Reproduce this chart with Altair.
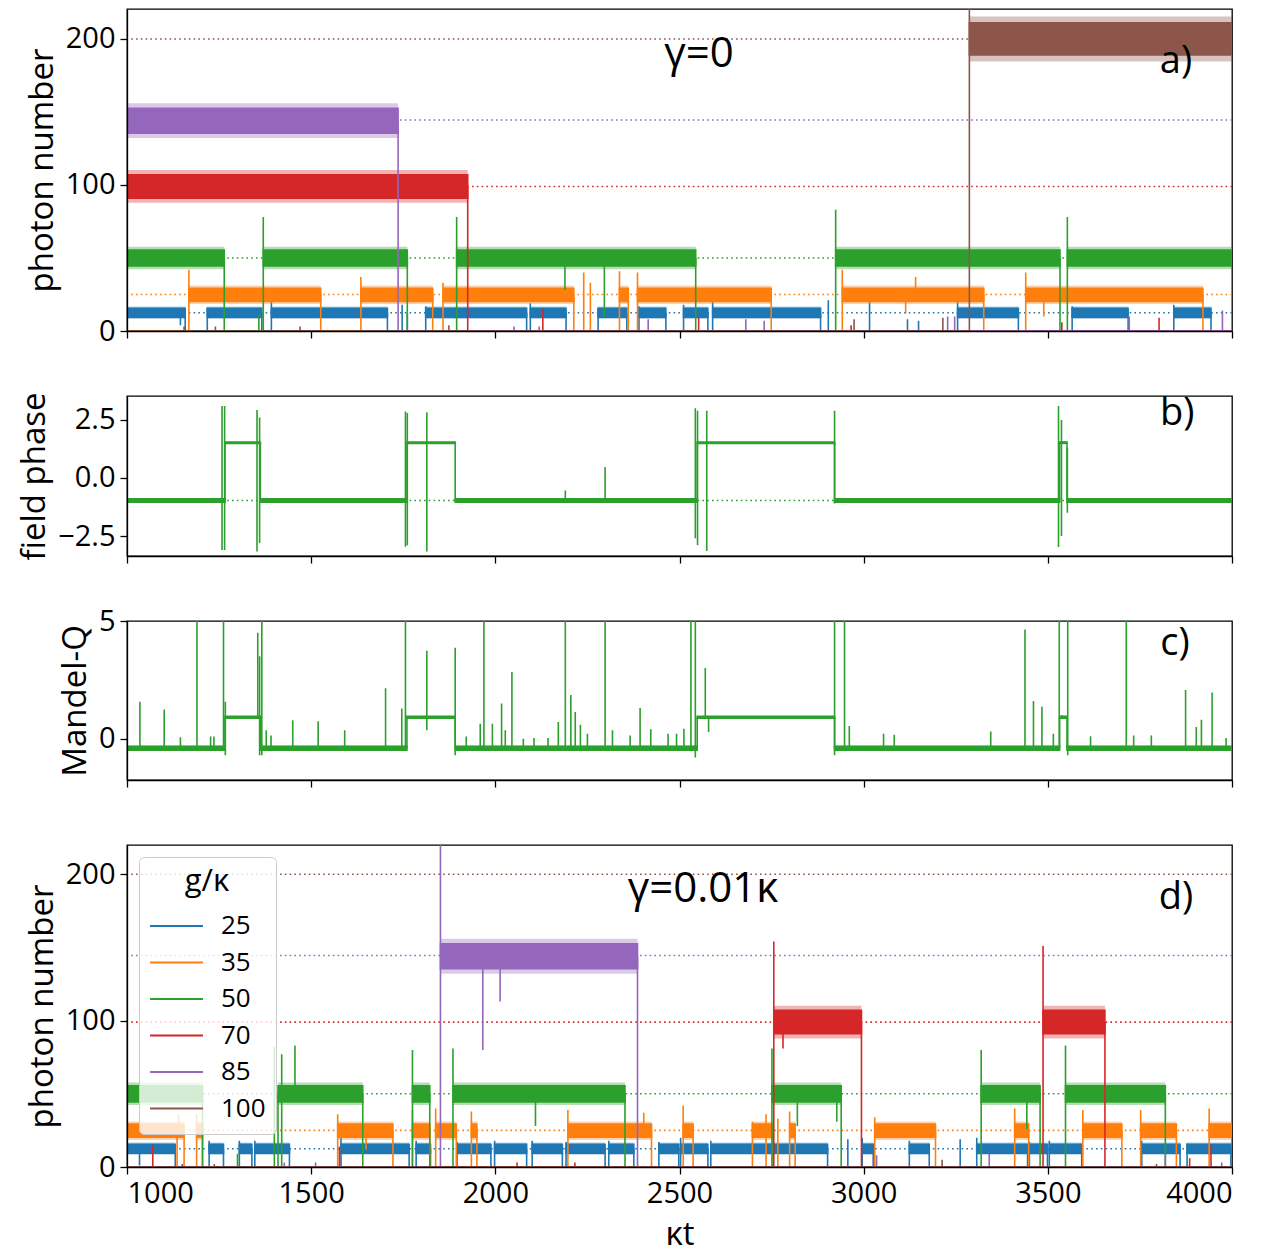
import altair as alt
import pandas as pd

T0, T1 = 1000, 4000
X_TICKS = [1000, 1500, 2000, 2500, 3000, 3500, 4000]
SERIES = ["25", "35", "50", "70", "85", "100"]
COLORS = ["#1f77b4", "#ff7f0e", "#2ca02c", "#d62728", "#9467bd", "#8c564b"]
GUIDES = [12.5, 25, 50, 99, 144.5, 200]   # dotted mean photon numbers
LEVELS = [12.5, 24.8, 50, 99, 144, 200]   # bright-state plateaus
NOISE = [3, 4.5, 5.5, 8, 8.5, 11]         # half width of the noisy band

# panel a) gamma=0 : bright periods (start, end, overshoot) and single strokes (t, from, to)
A_ON_25 = [(1000, 1158, 21), (1218, 1366, 16), (1392, 1707, 20), (1811, 2085, 17), (2095, 2192, 19),
           (2279, 2357, 16), (2390, 2463, 17), (2511, 2577, 18), (2590, 2883, 20), (3255, 3420, 20),
           (3566, 3718, 17), (3842, 3943, 18)]
A_HIT_25 = [(1145, 12.5, 4), (1747, 0, 18), (1761, 0, 12), (2904, 0, 21), (3016, 0, 21), (3119, 0, 8), (3149, 0, 7)]
A_ON_35 = [(1168, 1526, 42), (1635, 1830, 37), (1858, 2213, 33), (2337, 2361, 41), (2386, 2749, 40),
           (2942, 3326, 42), (3440, 3921, 40)]
A_HIT_35 = [(2240, 0, 40), (2258, 0, 33), (3114, 25, 12), (3141, 25, 37), (3489, 25, 10)]
A_ON_50 = [(1000, 1264, 0), (1370, 1761, 78), (1895, 2544, 78), (2924, 3533, 83), (3553, 4000, 78)]
A_HIT_50 = [(1358, 0, 11), (2189, 50, 28), (2296, 50, 10)]
A_ON_70 = [(1000, 1925, 0)]
A_HIT_70 = [(2129, 0, 15), (2552, 0, 9), (2966, 0, 4), (3538, 0, 6), (3802, 0, 9)]
A_ON_85 = [(1000, 1736, 0)]
A_HIT_85 = [(2051, 0, 3), (2119, 0, 3), (2415, 0, 8), (2680, 0, 8), (2730, 0, 7), (3228, 0, 10),
            (3247, 0, 10), (3721, 0, 10), (3974, 0, 14)]
A_ON_100 = [(3287, 4000, 240)]
A_HIT_100 = [(1155, 0, 3), (1240, 0, 3), (1470, 0, 3), (1874, 0, 4), (2974, 0, 8), (3215, 0, 9)]

# panel d) gamma=0.01 kappa
D_ON_25 = [(1000, 1131, 0), (1223, 1262, 18), (1305, 1339, 18), (1347, 1441, 18), (1581, 1766, 20),
           (1785, 1824, 18), (1896, 1988, 17), (1998, 2085, 18), (2100, 2182, 18), (2192, 2298, 17),
           (2308, 2376, 18), (2444, 2498, 17), (2503, 2577, 20), (2585, 2902, 18), (2996, 3026, 20),
           (3124, 3178, 18), (3307, 3445, 20), (3450, 3499, 17), (3504, 3592, 18), (3755, 3859, 18),
           (3878, 3997, 16)]
D_HIT_25 = [(1034, 12.5, 1), (2957, 0, 19), (3262, 0, 19)]
D_ON_35 = [(1000, 1155, 0), (1189, 1205, 36), (1572, 1722, 36), (1775, 1822, 39), (1838, 1894, 40),
           (1935, 1950, 38), (2197, 2424, 39), (2510, 2537, 42), (2698, 2754, 31), (2799, 2814, 38),
           (3030, 3195, 34), (3410, 3448, 40), (3595, 3701, 39), (3752, 3849, 39), (3938, 4000, 40)]
D_HIT_35 = [(1136, 24.8, 0), (1140, 24.8, 36), (1649, 24.8, 12), (2403, 24.8, 37), (2735, 0, 36), (2767, 0, 33)]
D_ON_50 = [(1000, 1205, 0), (1410, 1640, 0), (1775, 1822, 80), (1885, 2352, 81), (2751, 2939, 81),
           (3319, 3479, 80), (3548, 3819, 83)]
D_HIT_50 = [(1300, 0, 9), (1400, 0, 82), (1420, 0, 77), (1456, 50, 83), (2109, 50, 28), (2820, 50, 28),
            (2927, 50, 31), (3443, 50, 26)]
D_ON_70 = [(2756, 2994, 154), (3487, 3655, 151)]
D_HIT_70 = [(1070, 0, 15), (1577, 0, 14), (2059, 0, 3), (2216, 0, 3), (2781, 99, 81), (3885, 0, 6), (3943, 0, 15)]
D_ON_85 = [(1851, 2386, 240)]
D_HIT_85 = [(1427, 0, 3), (1512, 0, 3), (1966, 144, 80), (2013, 144, 113), (3035, 0, 8), (3341, 0, 9),
            (3819, 0, 9), (3972, 0, 3)]
D_ON_100 = []
D_HIT_100 = [(1150, 0, 2), (1237, 0, 2), (3213, 0, 5), (3795, 0, 2)]

# g/kappa=50 field on (True) / off (False) periods, shared by panels b) and c)
FIELD_ON = [(1000, 1266, True), (1266, 1362, False), (1362, 1760, True), (1760, 1891, False),
            (1891, 2548, True), (2548, 2921, False), (2921, 3532, True), (3532, 3552, False),
            (3552, 4000, True)]
PHASE_ON, PHASE_OFF = -0.97, 1.52
PHASE_HIT = [(1258, -3.1, 3.1), (1265, -3.1, 3.1), (1353, -3.17, 2.93), (1360, -2.8, 2.6),
             (1756, -2.96, 2.86), (1761, -2.9, 2.8), (1814, -3.17, 2.83), (2190, -0.97, -0.54),
             (2298, -0.97, 0.47), (2543, -2.6, 3.0), (2549, -2.9, 2.9), (2574, -3.14, 2.9),
             (2921, -1.1, 2.9), (3529, -2.97, 3.1), (3537, -2.5, 2.5), (3553, -1.5, 1.3)]
MANDEL_ON, MANDEL_OFF = -0.4, 0.91
MANDEL_HIT = [(1035, -0.4, 1.57), (1101, -0.4, 1.24), (1145, -0.4, 0.07), (1190, -0.4, 6), (1227, -0.4, 0.1),
              (1236, -0.4, 0.1), (1262, -0.4, 6), (1267, -0.7, 1.57), (1355, 0.91, 4.5), (1360, -0.7, 3.5),
              (1366, -0.7, 6), (1378, -0.4, 0.36), (1391, -0.4, 0.14), (1450, -0.4, 0.79), (1519, -0.4, 0.74),
              (1591, -0.4, 0.36), (1702, -0.4, 2.14), (1746, -0.4, 1.29), (1756, -0.4, 6), (1814, 0.36, 3.74),
              (1891, -0.7, 3.86), (1921, -0.4, 0.1), (1959, -0.4, 0.64), (1969, -0.4, 6), (1992, -0.4, 0.64),
              (2017, -0.4, 1.5), (2027, -0.4, 0.36), (2045, -0.4, 2.83), (2076, -0.4, 0.0), (2105, -0.4, 0.03),
              (2143, -0.4, 0.03), (2171, -0.4, 0.71), (2190, -0.4, 6), (2205, -0.4, 1.86), (2217, -0.4, 1.14),
              (2231, -0.4, 0.6), (2250, -0.4, 0.21), (2298, -0.4, 6), (2318, -0.4, 0.36), (2366, -0.4, 0.14),
              (2393, -0.4, 1.31), (2422, -0.4, 0.4), (2469, -0.4, 0.21), (2492, -0.4, 0.21), (2512, -0.4, 0.43),
              (2531, -0.4, 6), (2543, -0.8, 6), (2570, 0.91, 3.0), (2579, 0.29, 0.91), (2921, -0.7, 6),
              (2948, -0.4, 6), (2961, -0.4, 0.54), (3054, -0.4, 0.21), (3083, -0.4, 0.17), (3345, -0.4, 0.31),
              (3438, -0.4, 4.64), (3461, -0.4, 1.6), (3484, -0.4, 1.36), (3515, -0.4, 0.21), (3531, -0.4, 6),
              (3539, 0.91, 1.0), (3554, -0.7, 6), (3616, -0.4, 0.11), (3713, -0.4, 6), (3733, -0.4, 0.14),
              (3781, -0.4, 0.14), (3874, -0.4, 2.07), (3903, -0.4, 0.5), (3917, -0.4, 0.81), (3946, -0.4, 1.96),
              (3984, -0.4, 0.03)]

# annotations (text, t, value)
A_GAMMA, A_TAG = ("γ=0", 2553, 190), ("a)", 3848, 184)
B_TAG = ("b)", 3851, 2.76)
C_TAG = ("c)", 3845, 4.03)
D_GAMMA, D_TAG = ("γ=0.01κ", 2564, 190), ("d)", 3848, 184)

LINE_W = 1.6


def band(rows, s, a, b, lvl, hw):
    # soft fringe of the noise, then its dense core
    rows.append(dict(s=s, x=a, x2=b, y=lvl - 1.4 * hw, y2=lvl + 1.4 * hw, o=0.35, w=0))
    rows.append(dict(s=s, x=a, x2=b, y=lvl - hw, y2=lvl + hw, o=1, w=LINE_W))


def stroke(rows, s, x, x2, y, y2):
    rows.append(dict(s=s, x=x, x2=x2, y=y, y2=y2, o=1, w=LINE_W))


def photon_rows(on_lists, hit_lists):
    rows = []
    for s, on, hits, lvl, hw in zip(SERIES, on_lists, hit_lists, LEVELS, NOISE):
        prev = T0
        for a, b, peak in on:
            if a > prev:
                stroke(rows, s, prev, a, 0, 0)
            if a > T0:
                stroke(rows, s, a, a, 0, max(peak, lvl))
            band(rows, s, a, b, lvl, hw)
            if b < T1:
                stroke(rows, s, b, b, lvl, 0)
            prev = b
        if prev < T1:
            stroke(rows, s, prev, T1, 0, 0)
        for t, a, b in hits:
            stroke(rows, s, t, t, a, b)
    return rows


def state_rows(on_level, off_level, on_hw, off_hw, hits):
    rows = []
    for a, b, on in FIELD_ON:
        lvl, hw = (on_level, on_hw) if on else (off_level, off_hw)
        band(rows, "50", a, b, lvl, hw)
        if b < T1:
            stroke(rows, "50", b, b, lvl, off_level if on else on_level)
    for t, a, b in hits:
        stroke(rows, "50", t, t, a, b)
    return rows


def scale():
    return alt.Scale(domain=SERIES, range=COLORS)


def panel(rows, ydom, yticks, ytitle, height, notes, guides=(), yfmt="d", bottom=False, legend=None):
    xaxis = alt.Axis(values=X_TICKS, format="d", title="κt", titlePadding=10, zindex=1) if bottom else \
        alt.Axis(values=X_TICKS, labels=False, title=None, zindex=1)
    x = alt.X("x:Q", scale=alt.Scale(domain=[T0, T1], nice=False, zero=False), axis=xaxis)
    y = alt.Y("y:Q", scale=alt.Scale(domain=ydom, nice=False, zero=False),
              axis=alt.Axis(values=yticks, format=yfmt, title=ytitle, zindex=1))
    layers = []
    for lvl, col in guides:
        layers.append(alt.Chart(pd.DataFrame({"y": [lvl]})).mark_rule(
            strokeDash=[1.6, 3.2], strokeWidth=1.6, color=col).encode(y=y))
    layers.append(alt.Chart(pd.DataFrame(rows)).mark_rect(clip=True).encode(
        x=x, x2="x2:Q", y=y, y2="y2:Q",
        fill=alt.Fill("s:N", scale=scale(), legend=legend),
        stroke=alt.Stroke("s:N", scale=scale(), legend=legend),
        opacity=alt.Opacity("o:Q", scale=None),
        strokeWidth=alt.StrokeWidth("w:Q", scale=None)))
    for (txt, t, v), size in notes:
        df = pd.DataFrame({"x": [t], "y": [v], "label": [txt]})
        layers.append(alt.Chart(df).mark_text(fontSize=size, color="black", baseline="middle").encode(
            x="x:Q", y="y:Q", text="label:N"))
    return alt.layer(*layers).properties(width=1105, height=height)


photon_guides = list(zip(GUIDES, COLORS))
phase_guides = [(PHASE_ON, COLORS[2])]

legend = alt.Legend(title="g/κ", orient="top-left", offset=12, symbolType="stroke", symbolSize=2800,
                    symbolStrokeWidth=2, labelFontSize=26, titleFontSize=31, titleFontWeight="normal",
                    titleAnchor="middle", padding=10, rowPadding=6.5, clipHeight=30, labelOffset=17,
                    fillColor="rgba(255,255,255,0.8)", strokeColor="#cccccc", cornerRadius=5,
                    titlePadding=13, labelColor="black", titleColor="black", zindex=1)

pa = panel(photon_rows([A_ON_25, A_ON_35, A_ON_50, A_ON_70, A_ON_85, A_ON_100],
                       [A_HIT_25, A_HIT_35, A_HIT_50, A_HIT_70, A_HIT_85, A_HIT_100]),
           [0, 220.5], [0, 100, 200], "photon number", 322, [(A_GAMMA, 42), (A_TAG, 38)], guides=photon_guides)
pb = panel(state_rows(PHASE_ON, PHASE_OFF, 0.07, 0.03, PHASE_HIT),
           [-3.36, 3.53], [-2.5, 0, 2.5], "field phase", 160, [(B_TAG, 38)], guides=phase_guides, yfmt=".1f")
pc = panel(state_rows(MANDEL_ON, MANDEL_OFF, 0.08, 0.04, MANDEL_HIT),
           [-1.75, 5], [0, 5], "Mandel-Q", 159, [(C_TAG, 38)])
pd_ = panel(photon_rows([D_ON_25, D_ON_35, D_ON_50, D_ON_70, D_ON_85, D_ON_100],
                        [D_HIT_25, D_HIT_35, D_HIT_50, D_HIT_70, D_HIT_85, D_HIT_100]),
            [0, 220], [0, 100, 200], "photon number", 322, [(D_GAMMA, 42), (D_TAG, 38)],
            guides=photon_guides, bottom=True, legend=legend)

chart = alt.vconcat(pa, pb, pc, pd_, spacing=65, bounds="flush").resolve_scale(
    y="independent", fill="independent", stroke="independent"
).resolve_axis(x="independent", y="independent").resolve_legend(
    fill="independent", stroke="independent"
).properties(
    padding={"left": 9, "top": 0, "right": 5, "bottom": 8}
).configure(font="Open Sans").configure_view(
    stroke="black", strokeWidth=1.3
).configure_axis(
    domainColor="black", domainWidth=1.3, tickColor="black", tickWidth=1.3, tickSize=7,
    labelFontSize=29, titleFontSize=33, labelColor="black", titleColor="black",
    titleFontWeight="normal", grid=False, labelPadding=5, titlePadding=6
)

chart.save("out.html", embed_options={"renderer": "svg", "actions": False})
